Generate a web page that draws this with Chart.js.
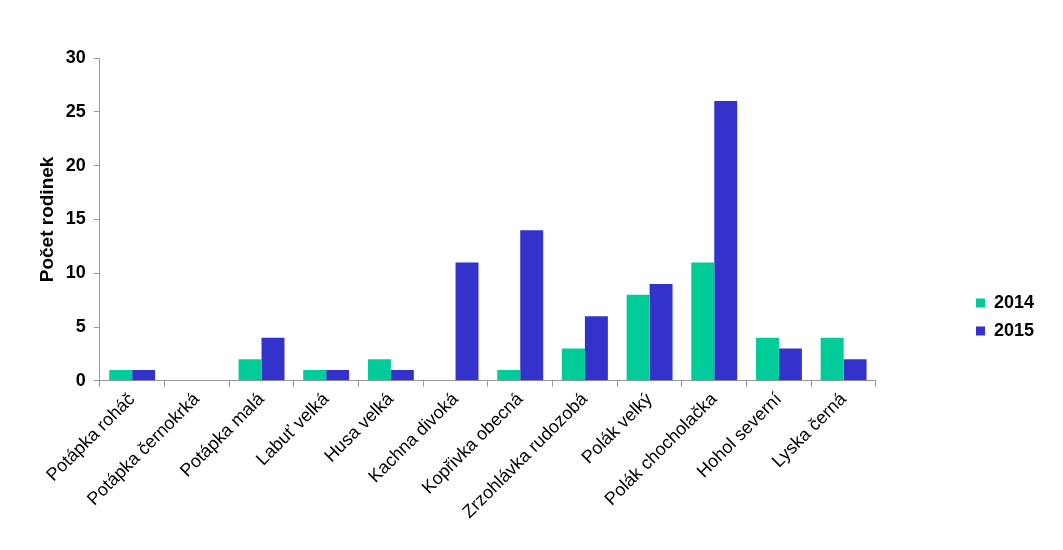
<!DOCTYPE html>
<html>
<head>
<meta charset="utf-8">
<script src="https://cdn.jsdelivr.net/npm/chart.js@4/dist/chart.umd.min.js"></script>
<style>
html,body{margin:0;padding:0;background:#fff;}
#wrap{width:1063px;height:550px;position:relative;}
</style>
</head>
<body>
<div id="wrap"><canvas id="c" width="1063" height="550"></canvas></div>
<script>
const categories = ["Potápka roháč","Potápka černokrká","Potápka malá","Labuť velká","Husa velká","Kachna divoká","Kopřivka obecná","Zrzohlávka rudozobá","Polák velký","Polák chocholačka","Hohol severní","Lyska černá"];
const seriesNames = ["2014","2015"];
const values2014 = [1,0,2,1,2,0,1,3,8,11,4,4];
const values2015 = [1,0,4,1,1,11,14,6,9,26,3,2];
const yTicks = [0,5,10,15,20,25,30];
const yTitle = "Počet rodinek";

const FONT = "'Liberation Sans', Arial, sans-serif";
const LEGEND_ITEM_X = 976;
const LEGEND_CENTER_Y = 317;

const legendShift = {
  id: 'legendShift',
  afterLayout(chart) {
    const lg = chart.legend;
    if (!lg) return;
    const pad = lg.options.labels.padding;
    const dx = (LEGEND_ITEM_X - pad) - lg.left;
    lg.left += dx; lg.right += dx;
    const dy = LEGEND_CENTER_Y - (lg.top + lg.bottom) / 2;
    lg.top += dy; lg.bottom += dy;
  }
};

new Chart(document.getElementById('c'), {
  type: 'bar',
  data: {
    labels: categories,
    datasets: [
      { label: seriesNames[0], data: values2014, backgroundColor: '#00CC99', borderWidth: 0 },
      { label: seriesNames[1], data: values2015, backgroundColor: '#3333CC', borderWidth: 0 }
    ]
  },
  options: {
    responsive: false,
    animation: false,
    devicePixelRatio: 1,
    layout: { padding: { left: 36, right: 109, top: 58, bottom: 25 } },
    datasets: { bar: { categoryPercentage: 0.71, barPercentage: 1.0 } },
    plugins: {
      legend: {
        position: 'right',
        labels: {
          boxWidth: 9, boxHeight: 9, padding: 10, color: '#000',
          font: { family: FONT, size: 18, weight: 'bold' }
        }
      },
      tooltip: { enabled: false }
    },
    scales: {
      x: {
        grid: { display: true, offset: true, drawOnChartArea: false, drawTicks: true, tickLength: 6, color: '#999' },
        border: { display: true, color: '#999', width: 1 },
        ticks: { color: '#000', minRotation: 45, maxRotation: 45, autoSkip: false, padding: 2, font: { family: FONT, size: 18 } }
      },
      y: {
        min: 0, max: 30,
        afterBuildTicks(axis) { axis.ticks = yTicks.map(v => ({ value: v })); },
        grid: { display: true, drawOnChartArea: false, drawTicks: true, tickLength: 6, color: '#999' },
        border: { display: true, color: '#999', width: 1 },
        ticks: { color: '#000', padding: 8, font: { family: FONT, size: 18, weight: 'bold' } },
        title: { display: true, text: yTitle, color: '#000', padding: { top: 0, bottom: -1 }, font: { family: FONT, size: 19, weight: 'bold' } }
      }
    }
  },
  plugins: [legendShift]
});
</script>
</body>
</html>
